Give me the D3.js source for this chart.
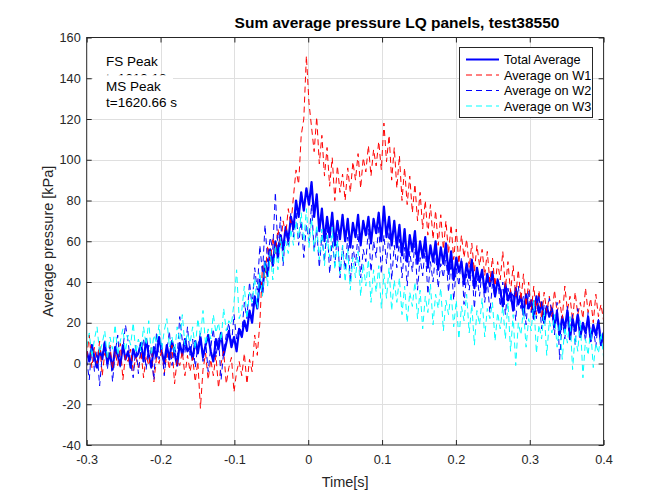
<!DOCTYPE html>
<html><head><meta charset="utf-8">
<script src="https://cdn.jsdelivr.net/npm/d3@7"></script>
<style>body{margin:0;background:#fff} svg{display:block} text{font-family:"Liberation Sans",Arial,sans-serif;}</style>
</head><body><svg id="chart" width="667" height="500"></svg>
<script>
const titleText = "Sum average pressure LQ panels, test38550";
const xLabelText = "Time[s]";
const yLabelText = "Average pressure [kPa]";
const xTicks = [-0.3,-0.2,-0.1,0,0.1,0.2,0.3,0.4];
const xTickLabels = ["-0.3","-0.2","-0.1","0","0.1","0.2","0.3","0.4"];
const yTicks = [-40,-20,0,20,40,60,80,100,120,140,160];
const yTickLabels = ["-40","-20","0","20","40","60","80","100","120","140","160"];
const seriesNames = ["Total Average","Average on W1","Average on W2","Average on W3"];
const seriesColors = ["#0000ff","#ff0000","#0000ff","#00ffff"];
const annotFS = ["FS Peak","t=1619.18 s"];
const annotMS = ["MS Peak","t=1620.66 s"];
const tStart = -0.3, tStep = 0.0035;

const totalAverage = [
6,1,9,3,-2,7,2,10,0,5,-3,8,4,-1,9,2,6,-2,7,3,
5,10,1,12,4,-2,8,3,13,6,0,9,2,11,5,-1,10,4,12,6,
8,2,11,5,13,3,9,14,6,1,12,7,15,4,10,16,8,13,6,17,
13,21,16,26,20,33,27,41,35,50,43,56,48,60,52,63,56,67,60,72,
66,80,72,84,75,86,78,89,72,83,65,76,60,72,62,74,58,70,61,73,
60,71,57,69,62,73,58,70,63,72,59,71,64,74,60,77,62,72,58,70,
57,68,53,66,50,63,55,65,49,60,52,62,47,58,50,60,46,57,49,59,
44,55,41,52,45,50,39,49,42,51,37,47,40,46,35,44,38,45,33,41,
36,28,39,31,35,26,37,29,33,24,34,27,31,22,33,25,30,20,28,23,
27,18,25,14,23,17,26,12,22,16,24,13,20,15,23,11,19,14,21,9,15];

const avgW1 = [
3,14,-2,8,0,11,-6,5,2,9,-3,6,-1,10,-8,4,1,7,-4,3,
-2,6,-7,4,-1,8,-9,3,0,7,-5,5,-3,9,-10,2,-1,6,-6,4,
-4,3,-9,1,-22,-3,5,-8,2,-6,4,-12,0,6,-10,-2,3,-14,-4,1,
-6,5,-10,2,-4,14,4,20,48,42,58,50,62,54,66,58,70,63,76,68,
82,95,88,112,120,151,128,116,104,121,98,112,92,106,87,101,80,97,84,93,
80,96,84,99,90,103,86,101,94,107,92,105,97,109,95,118,99,112,90,106,
86,102,80,96,78,92,74,88,70,84,66,80,63,78,61,75,58,73,56,70,
54,68,51,66,49,63,52,61,47,59,45,58,48,56,43,55,40,52,38,50,
41,55,37,50,35,48,33,46,31,44,28,40,26,38,24,36,22,35,25,33,
23,36,25,31,22,38,26,33,21,35,24,30,22,37,25,32,20,34,23,29,21];

const avgW2 = [
2,-8,10,-4,6,-11,4,12,-3,8,-9,5,14,-2,7,19,11,0,-7,9,
-5,7,12,-3,9,4,-8,15,2,10,-6,6,16,-1,8,3,23,11,5,18,
4,12,-2,9,15,1,11,-4,8,17,3,13,-8,6,14,20,9,24,12,18,
15,30,22,40,28,47,36,58,44,68,50,62,56,84,55,72,48,66,58,74,
62,75,58,70,52,68,60,78,55,66,47,63,50,69,44,60,48,64,42,58,
46,62,40,58,48,64,42,56,50,66,45,60,52,68,44,63,49,65,41,58,
47,61,42,57,38,55,45,59,36,52,43,57,34,50,40,55,37,49,42,53,
35,50,31,47,38,52,29,44,36,48,27,43,33,46,30,41,25,39,32,42,
28,40,24,37,30,35,21,38,27,33,19,36,25,31,22,34,17,29,24,32,
26,14,30,2,22,12,28,16,24,9,27,15,20,11,25,13,18,8,22,10,16];

const avgW3 = [
8,15,3,12,18,5,10,16,2,13,7,19,4,11,17,6,14,9,20,5,
12,6,18,9,21,4,14,10,19,7,16,22,8,13,5,18,11,24,9,15,
10,18,7,22,13,26,9,17,12,24,15,20,11,27,16,21,19,30,46,22,
26,38,22,35,30,42,27,45,33,50,38,55,41,58,46,62,50,60,54,66,
58,70,62,74,60,76,57,71,55,68,51,66,48,63,52,67,46,61,44,58,
40,56,36,52,42,55,33,49,38,51,30,46,35,48,27,44,32,47,26,41,
30,42,24,38,20,35,28,40,22,36,17,33,25,39,19,34,27,37,16,31,
24,35,18,31,12,28,21,34,15,29,9,26,19,32,13,27,22,30,11,25,
17,28,12,30,6,24,-1,20,14,27,8,22,16,31,5,19,12,26,4,21,
15,24,8,20,2,18,10,23,-3,14,6,21,-7,12,4,17,-2,10,5,15,3];

const series = [totalAverage, avgW1, avgW2, avgW3];
const seriesWidth = [2.2, 1, 1, 1];
const seriesDash = [null, "6,4", "6,4", "6,4"];

const svg = d3.select("#chart");
const L = 86.7, R = 603.6, T = 37.5, B = 445;
const x = d3.scaleLinear().domain([-0.3, 0.4]).range([L, R]);
const y = d3.scaleLinear().domain([-40, 160]).range([B, T]);
const axisColor = "#262626";
const fs = 12.7;

svg.append("rect").attr("width",667).attr("height",500).attr("fill","#fff");
svg.append("rect").attr("x",L).attr("y",T).attr("width",R-L).attr("height",B-T).attr("fill","#fff");

// grid
const grid = svg.append("g").attr("stroke","#dfdfdf").attr("stroke-width",1);
grid.selectAll(".gx").data(xTicks.slice(1,-1)).join("line")
  .attr("x1",d=>Math.round(x(d))+0.5).attr("x2",d=>Math.round(x(d))+0.5).attr("y1",T).attr("y2",B);
grid.selectAll(".gy").data(yTicks.slice(1,-1)).join("line")
  .attr("y1",d=>Math.round(y(d))+0.5).attr("y2",d=>Math.round(y(d))+0.5).attr("x1",L).attr("x2",R);

// data
svg.append("clipPath").attr("id","clip").append("rect").attr("x",L).attr("y",T).attr("width",R-L).attr("height",B-T);
const line = d3.line().x((d,i)=>x(tStart + i*tStep)).y(d=>y(d));
const dg = svg.append("g").attr("clip-path","url(#clip)");
series.forEach((s,k)=>{
  dg.append("path").datum(s).attr("d",line).attr("fill","none")
    .attr("stroke",seriesColors[k]).attr("stroke-width",seriesWidth[k])
    .attr("stroke-dasharray",seriesDash[k]).attr("stroke-linejoin","round");
});

// axes (ticks inside, on all sides)
function styleAxis(g){
  g.select(".domain").remove();
  g.selectAll(".tick line").attr("stroke",axisColor).attr("stroke-width",1);
  g.selectAll(".tick text").attr("fill","#262626").attr("font-size",fs).attr("font-family","Liberation Sans, Arial, sans-serif");
}
svg.append("g").attr("transform",`translate(0,${B})`)
  .call(d3.axisBottom(x).tickValues(xTicks).tickFormat((d,i)=>xTickLabels[i]).tickSize(-5).tickPadding(10))
  .call(styleAxis);
svg.append("g").attr("transform",`translate(0,${T})`)
  .call(d3.axisTop(x).tickValues(xTicks).tickFormat("").tickSize(-5))
  .call(styleAxis);
svg.append("g").attr("transform",`translate(${L},0)`)
  .call(d3.axisLeft(y).tickValues(yTicks).tickFormat((d,i)=>yTickLabels[i]).tickSize(-5).tickPadding(6))
  .call(styleAxis);
svg.append("g").attr("transform",`translate(${R},0)`)
  .call(d3.axisRight(y).tickValues(yTicks).tickFormat("").tickSize(-5))
  .call(styleAxis);

svg.append("rect").attr("x",L).attr("y",T).attr("width",R-L).attr("height",B-T)
  .attr("fill","none").attr("stroke",axisColor).attr("stroke-width",1);

// labels
svg.append("text").attr("x",397).attr("y",28).attr("text-anchor","middle")
  .attr("font-size",15.5).attr("font-weight","bold").attr("fill","#000").text(titleText);
svg.append("text").attr("x",(L+R)/2).attr("y",487).attr("text-anchor","middle")
  .attr("font-size",14.5).attr("fill","#262626").text(xLabelText);
svg.append("text").attr("transform",`translate(53,${(T+B)/2}) rotate(-90)`).attr("text-anchor","middle")
  .attr("font-size",14.5).attr("fill","#262626").text(yLabelText);

// annotations
svg.append("clipPath").attr("id","fsclip").append("rect").attr("x",90).attr("y",40).attr("width",120).attr("height",35.5);
svg.append("text").attr("x",106).attr("y",66).attr("font-size",13.5).attr("fill","#000").text(annotFS[0]);
svg.append("text").attr("x",106).attr("y",82.5).attr("font-size",13.5).attr("fill","#000")
  .attr("clip-path","url(#fsclip)").text(annotFS[1]);
svg.append("rect").attr("x",93).attr("y",75.5).attr("width",80).attr("height",34).attr("fill","#fff");
svg.append("text").attr("x",106).attr("y",90.5).attr("font-size",13.5).attr("fill","#000").text(annotMS[0]);
svg.append("text").attr("x",106).attr("y",107).attr("font-size",13.5).attr("fill","#000").text(annotMS[1]);

// legend
const lg = svg.append("g");
lg.append("rect").attr("x",459.5).attr("y",47.5).attr("width",133).attr("height",70)
  .attr("fill","#fff").attr("stroke",axisColor).attr("stroke-width",1);
const ly = [59.5, 75, 90.5, 106];
seriesNames.forEach((n,k)=>{
  lg.append("line").attr("x1",466).attr("x2",499).attr("y1",ly[k]).attr("y2",ly[k])
    .attr("stroke",seriesColors[k]).attr("stroke-width",seriesWidth[k]).attr("stroke-dasharray",seriesDash[k]);
  lg.append("text").attr("x",504).attr("y",ly[k]+4.5).attr("font-size",fs).attr("fill","#000").text(n);
});
</script></body></html>
